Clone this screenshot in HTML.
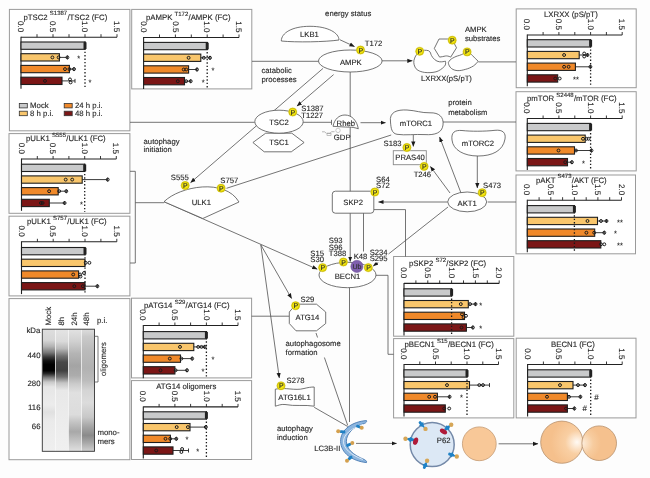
<!DOCTYPE html><html><head><meta charset="utf-8"><style>html,body{margin:0;padding:0;background:#fff;width:650px;height:478px;overflow:hidden}svg{display:block;will-change:transform}text{stroke:#262626;stroke-width:0.12px;text-rendering:geometricPrecision}</style></head><body>
<svg width="650" height="478" viewBox="0 0 650 478" font-family='"Liberation Sans", sans-serif'>
<rect width="650" height="478" fill="#fdfdfd"/>
<rect x="9.4" y="9.4" width="120.5" height="121.4" fill="#fff" stroke="#9a9a9a" stroke-width="1"/>
<text x="23.4" y="19.6" font-size="7.8" fill="#262626">pTSC2 <tspan font-size="6" dy="-4.3">S1387</tspan><tspan dy="4.3" dx="0.2">/TSC2 (FC)</tspan></text>
<text transform="translate(18.1,21.0) rotate(90)" font-size="8" fill="#262626">0.0</text>
<text transform="translate(50.1,21.0) rotate(90)" font-size="8" fill="#262626">0.5</text>
<text transform="translate(82.1,21.0) rotate(90)" font-size="8" fill="#262626">1.0</text>
<text transform="translate(114.1,21.0) rotate(90)" font-size="8" fill="#262626">1.5</text>
<path d="M21.0,37.2H117.0" stroke="#222" stroke-width="1.1" fill="none"/>
<path d="M37.0,37.2v-3M53.0,37.2v-3M69.0,37.2v-3M85.0,37.2v-3M101.0,37.2v-3M117.0,37.2v-3" stroke="#222" stroke-width="0.9" fill="none"/>
<path d="M21.0,36.7V88.7" stroke="#222" stroke-width="1.1" fill="none"/>
<rect x="21.0" y="42.0" width="64.0" height="7.3" fill="#c9cacb" stroke="#1e1e1e" stroke-width="1.1"/>
<rect x="21.0" y="53.7" width="38.4" height="7.3" fill="#f9c66c" stroke="#1e1e1e" stroke-width="1.1"/>
<rect x="21.0" y="65.4" width="48.4" height="7.3" fill="#f0892a" stroke="#1e1e1e" stroke-width="1.1"/>
<rect x="21.0" y="77.2" width="41.0" height="7.3" fill="#7b1616" stroke="#1e1e1e" stroke-width="1.1"/>
<path d="M85.0,41.5V88.6" stroke="#1a1a1a" stroke-width="1.3" stroke-dasharray="1.4,2" fill="none"/>
<path d="M59.4,57.4H67.4M67.4,55.4V59.4" stroke="#222" stroke-width="0.9" fill="none"/>
<path d="M69.4,69.1H74.0M74.0,67.1V71.1" stroke="#222" stroke-width="0.9" fill="none"/>
<path d="M62.0,80.9H75.0M75.0,78.9V82.9" stroke="#222" stroke-width="0.9" fill="none"/>
<path d="M83.5,42.3h3v6.7h-3z" fill="#222"/>
<circle cx="52.4" cy="57.4" r="1.45" fill="none" stroke="#1a1a1a" stroke-width="1.0"/>
<circle cx="58.6" cy="57.4" r="1.45" fill="none" stroke="#1a1a1a" stroke-width="1.0"/>
<circle cx="67.4" cy="57.4" r="1.45" fill="none" stroke="#1a1a1a" stroke-width="1.0"/>
<circle cx="65.0" cy="69.1" r="1.45" fill="none" stroke="#1a1a1a" stroke-width="1.0"/>
<circle cx="69.4" cy="69.1" r="1.45" fill="none" stroke="#1a1a1a" stroke-width="1.0"/>
<circle cx="74.0" cy="69.1" r="1.45" fill="none" stroke="#1a1a1a" stroke-width="1.0"/>
<circle cx="45.0" cy="80.9" r="1.45" fill="none" stroke="#1a1a1a" stroke-width="1.0"/>
<circle cx="70.0" cy="79.4" r="1.45" fill="none" stroke="#1a1a1a" stroke-width="1.0"/>
<circle cx="70.6" cy="82.4" r="1.45" fill="none" stroke="#1a1a1a" stroke-width="1.0"/>
<text x="78.6" y="61.0" font-size="7.5" text-anchor="middle" fill="#222" >*</text>
<text x="90.0" y="84.5" font-size="7.5" text-anchor="middle" fill="#222" >*</text>
<rect x="19.3" y="103.4" width="8" height="4.5" fill="#c9cacb" stroke="#333" stroke-width="0.8"/>
<text x="30.1" y="108.4" font-size="7.8" text-anchor="start" fill="#262626" >Mock</text>
<rect x="19.3" y="111.2" width="8" height="4.5" fill="#f9c66c" stroke="#333" stroke-width="0.8"/>
<text x="30.1" y="116.2" font-size="7.8" text-anchor="start" fill="#262626" >8 h p.i.</text>
<rect x="64.2" y="103.4" width="8" height="4.5" fill="#f0892a" stroke="#333" stroke-width="0.8"/>
<text x="75.0" y="108.4" font-size="7.8" text-anchor="start" fill="#262626" >24 h p.i.</text>
<rect x="64.2" y="111.2" width="8" height="4.5" fill="#7b1616" stroke="#333" stroke-width="0.8"/>
<text x="75.0" y="116.2" font-size="7.8" text-anchor="start" fill="#262626" >48 h p.i.</text>
<rect x="131.7" y="9.4" width="120.1" height="79.5" fill="#fff" stroke="#9a9a9a" stroke-width="1"/>
<text x="146.0" y="19.9" font-size="7.8" fill="#262626">pAMPK <tspan font-size="6" dy="-4.3">T172</tspan><tspan dy="4.3" dx="0.2">/AMPK (FC)</tspan></text>
<text transform="translate(140.7,21.3) rotate(90)" font-size="8" fill="#262626">0.0</text>
<text transform="translate(172.5,21.3) rotate(90)" font-size="8" fill="#262626">0.5</text>
<text transform="translate(204.3,21.3) rotate(90)" font-size="8" fill="#262626">1.0</text>
<text transform="translate(236.1,21.3) rotate(90)" font-size="8" fill="#262626">1.5</text>
<path d="M143.6,37.5H239.0" stroke="#222" stroke-width="1.1" fill="none"/>
<path d="M159.5,37.5v-3M175.4,37.5v-3M191.3,37.5v-3M207.2,37.5v-3M223.1,37.5v-3M239.0,37.5v-3" stroke="#222" stroke-width="0.9" fill="none"/>
<path d="M143.6,37.0V89.0" stroke="#222" stroke-width="1.1" fill="none"/>
<rect x="143.6" y="42.4" width="63.6" height="7.3" fill="#c9cacb" stroke="#1e1e1e" stroke-width="1.1"/>
<rect x="143.6" y="54.1" width="57.2" height="7.3" fill="#f9c66c" stroke="#1e1e1e" stroke-width="1.1"/>
<rect x="143.6" y="65.8" width="45.0" height="7.3" fill="#f0892a" stroke="#1e1e1e" stroke-width="1.1"/>
<rect x="143.6" y="77.5" width="40.9" height="7.3" fill="#7b1616" stroke="#1e1e1e" stroke-width="1.1"/>
<path d="M207.2,41.9V87.5" stroke="#1a1a1a" stroke-width="1.3" stroke-dasharray="1.4,2" fill="none"/>
<path d="M200.8,57.8H210.0M210.0,55.8V59.8" stroke="#222" stroke-width="0.9" fill="none"/>
<path d="M188.6,69.5H197.0M197.0,67.5V71.5" stroke="#222" stroke-width="0.9" fill="none"/>
<path d="M184.5,81.2H190.7M190.7,79.2V83.2" stroke="#222" stroke-width="0.9" fill="none"/>
<path d="M205.7,42.7h3v6.7h-3z" fill="#222"/>
<circle cx="188.6" cy="57.8" r="1.45" fill="none" stroke="#1a1a1a" stroke-width="1.0"/>
<circle cx="203.8" cy="57.8" r="1.45" fill="none" stroke="#1a1a1a" stroke-width="1.0"/>
<circle cx="210.0" cy="57.8" r="1.45" fill="none" stroke="#1a1a1a" stroke-width="1.0"/>
<circle cx="183.7" cy="69.5" r="1.45" fill="none" stroke="#1a1a1a" stroke-width="1.0"/>
<circle cx="186.2" cy="69.5" r="1.45" fill="none" stroke="#1a1a1a" stroke-width="1.0"/>
<circle cx="197.0" cy="69.5" r="1.45" fill="none" stroke="#1a1a1a" stroke-width="1.0"/>
<circle cx="177.8" cy="81.2" r="1.45" fill="none" stroke="#1a1a1a" stroke-width="1.0"/>
<circle cx="186.2" cy="81.2" r="1.45" fill="none" stroke="#1a1a1a" stroke-width="1.0"/>
<circle cx="190.7" cy="81.2" r="1.45" fill="none" stroke="#1a1a1a" stroke-width="1.0"/>
<text x="213.0" y="73.0" font-size="7.5" text-anchor="middle" fill="#222" >*</text>
<text x="203.2" y="84.8" font-size="7.5" text-anchor="middle" fill="#222" >*</text>
<rect x="516.2" y="8.9" width="120.0" height="78.8" fill="#fff" stroke="#9a9a9a" stroke-width="1"/>
<text x="544.0" y="17.4" font-size="7.8" fill="#262626">LXRXX (pS/pT)</text>
<text transform="translate(524.4,18.8) rotate(90)" font-size="8" fill="#262626">0.0</text>
<text transform="translate(556.0,18.8) rotate(90)" font-size="8" fill="#262626">0.5</text>
<text transform="translate(587.7,18.8) rotate(90)" font-size="8" fill="#262626">1.0</text>
<text transform="translate(619.4,18.8) rotate(90)" font-size="8" fill="#262626">1.5</text>
<path d="M527.3,35.0H622.2" stroke="#222" stroke-width="1.1" fill="none"/>
<path d="M543.1,35.0v-3M558.9,35.0v-3M574.8,35.0v-3M590.6,35.0v-3M606.4,35.0v-3M622.2,35.0v-3" stroke="#222" stroke-width="0.9" fill="none"/>
<path d="M527.3,34.5V86.3" stroke="#222" stroke-width="1.1" fill="none"/>
<rect x="527.3" y="39.7" width="63.3" height="7.3" fill="#c9cacb" stroke="#1e1e1e" stroke-width="1.1"/>
<rect x="527.3" y="51.4" width="51.9" height="7.3" fill="#f9c66c" stroke="#1e1e1e" stroke-width="1.1"/>
<rect x="527.3" y="63.1" width="48.1" height="7.3" fill="#f0892a" stroke="#1e1e1e" stroke-width="1.1"/>
<rect x="527.3" y="74.8" width="30.4" height="7.3" fill="#7b1616" stroke="#1e1e1e" stroke-width="1.1"/>
<path d="M590.6,39.2V86.0" stroke="#1a1a1a" stroke-width="1.3" stroke-dasharray="1.4,2" fill="none"/>
<path d="M579.2,55.0H587.5M587.5,53.0V57.0" stroke="#222" stroke-width="0.9" fill="none"/>
<path d="M575.4,66.8H590.4M590.4,64.8V68.8" stroke="#222" stroke-width="0.9" fill="none"/>
<path d="M589.1,40.0h3v6.7h-3z" fill="#222"/>
<circle cx="564.1" cy="55.0" r="1.45" fill="none" stroke="#1a1a1a" stroke-width="1.0"/>
<circle cx="584.2" cy="53.5" r="1.45" fill="none" stroke="#1a1a1a" stroke-width="1.0"/>
<circle cx="584.2" cy="56.5" r="1.45" fill="none" stroke="#1a1a1a" stroke-width="1.0"/>
<circle cx="587.5" cy="55.0" r="1.45" fill="none" stroke="#1a1a1a" stroke-width="1.0"/>
<circle cx="564.1" cy="66.8" r="1.45" fill="none" stroke="#1a1a1a" stroke-width="1.0"/>
<circle cx="568.6" cy="66.8" r="1.45" fill="none" stroke="#1a1a1a" stroke-width="1.0"/>
<circle cx="590.4" cy="66.8" r="1.45" fill="none" stroke="#1a1a1a" stroke-width="1.0"/>
<circle cx="555.2" cy="78.5" r="1.45" fill="none" stroke="#1a1a1a" stroke-width="1.0"/>
<circle cx="559.7" cy="78.5" r="1.45" fill="none" stroke="#1a1a1a" stroke-width="1.0"/>
<text x="576.0" y="82.0" font-size="7.5" text-anchor="middle" fill="#222" >**</text>
<rect x="516" y="91.7" width="120.2" height="79.2" fill="#fff" stroke="#9a9a9a" stroke-width="1"/>
<text x="527.0" y="100.9" font-size="7.8" fill="#262626">pmTOR <tspan font-size="6" dy="-4.3">S2448</tspan><tspan dy="4.3" dx="0.2">/mTOR (FC)</tspan></text>
<text transform="translate(524.4,102.3) rotate(90)" font-size="8" fill="#262626">0.0</text>
<text transform="translate(556.0,102.3) rotate(90)" font-size="8" fill="#262626">0.5</text>
<text transform="translate(587.7,102.3) rotate(90)" font-size="8" fill="#262626">1.0</text>
<text transform="translate(619.4,102.3) rotate(90)" font-size="8" fill="#262626">1.5</text>
<path d="M527.3,118.5H622.2" stroke="#222" stroke-width="1.1" fill="none"/>
<path d="M543.1,118.5v-3M558.9,118.5v-3M574.8,118.5v-3M590.6,118.5v-3M606.4,118.5v-3M622.2,118.5v-3" stroke="#222" stroke-width="0.9" fill="none"/>
<path d="M527.3,118.0V170.0" stroke="#222" stroke-width="1.1" fill="none"/>
<rect x="527.3" y="123.4" width="63.3" height="7.3" fill="#c9cacb" stroke="#1e1e1e" stroke-width="1.1"/>
<rect x="527.3" y="135.1" width="57.9" height="7.3" fill="#f9c66c" stroke="#1e1e1e" stroke-width="1.1"/>
<rect x="527.3" y="146.8" width="47.2" height="7.3" fill="#f0892a" stroke="#1e1e1e" stroke-width="1.1"/>
<rect x="527.3" y="158.5" width="40.2" height="7.3" fill="#7b1616" stroke="#1e1e1e" stroke-width="1.1"/>
<path d="M590.6,122.9V170.0" stroke="#1a1a1a" stroke-width="1.3" stroke-dasharray="1.4,2" fill="none"/>
<path d="M574.5,150.5H591.5M591.5,148.5V152.5" stroke="#222" stroke-width="0.9" fill="none"/>
<path d="M567.5,162.2H571.9M571.9,160.2V164.2" stroke="#222" stroke-width="0.9" fill="none"/>
<path d="M589.1,123.7h3v6.7h-3z" fill="#222"/>
<circle cx="583.0" cy="138.8" r="1.45" fill="none" stroke="#1a1a1a" stroke-width="1.0"/>
<circle cx="586.4" cy="138.8" r="1.45" fill="none" stroke="#1a1a1a" stroke-width="1.0"/>
<circle cx="588.6" cy="138.8" r="1.45" fill="none" stroke="#1a1a1a" stroke-width="1.0"/>
<circle cx="558.5" cy="150.5" r="1.45" fill="none" stroke="#1a1a1a" stroke-width="1.0"/>
<circle cx="576.0" cy="150.5" r="1.45" fill="none" stroke="#1a1a1a" stroke-width="1.0"/>
<circle cx="591.5" cy="150.5" r="1.45" fill="none" stroke="#1a1a1a" stroke-width="1.0"/>
<circle cx="565.2" cy="162.2" r="1.45" fill="none" stroke="#1a1a1a" stroke-width="1.0"/>
<circle cx="571.9" cy="162.2" r="1.45" fill="none" stroke="#1a1a1a" stroke-width="1.0"/>
<text x="583.5" y="165.8" font-size="7.5" text-anchor="middle" fill="#222" >*</text>
<rect x="516" y="175" width="119.5" height="78.8" fill="#fff" stroke="#9a9a9a" stroke-width="1"/>
<text x="536.0" y="182.6" font-size="7.8" fill="#262626">pAKT <tspan font-size="6" dy="-4.3">S473</tspan><tspan dy="4.3" dx="0.2">/AKT (FC)</tspan></text>
<text transform="translate(524.4,184.0) rotate(90)" font-size="8" fill="#262626">0.0</text>
<text transform="translate(547.9,184.0) rotate(90)" font-size="8" fill="#262626">0.5</text>
<text transform="translate(571.5,184.0) rotate(90)" font-size="8" fill="#262626">1.0</text>
<text transform="translate(595.0,184.0) rotate(90)" font-size="8" fill="#262626">1.5</text>
<text transform="translate(618.6,184.0) rotate(90)" font-size="8" fill="#262626">2.0</text>
<path d="M527.3,200.2H621.5" stroke="#222" stroke-width="1.1" fill="none"/>
<path d="M539.1,200.2v-3M550.8,200.2v-3M562.6,200.2v-3M574.4,200.2v-3M586.2,200.2v-3M597.9,200.2v-3M609.7,200.2v-3M621.5,200.2v-3" stroke="#222" stroke-width="0.9" fill="none"/>
<path d="M527.3,199.7V252.2" stroke="#222" stroke-width="1.1" fill="none"/>
<rect x="527.3" y="205.6" width="47.1" height="7.3" fill="#c9cacb" stroke="#1e1e1e" stroke-width="1.1"/>
<rect x="527.3" y="217.3" width="70.2" height="7.3" fill="#f9c66c" stroke="#1e1e1e" stroke-width="1.1"/>
<rect x="527.3" y="229.0" width="67.4" height="7.3" fill="#f0892a" stroke="#1e1e1e" stroke-width="1.1"/>
<rect x="527.3" y="240.7" width="73.5" height="7.3" fill="#7b1616" stroke="#1e1e1e" stroke-width="1.1"/>
<path d="M574.4,205.1V252.0" stroke="#1a1a1a" stroke-width="1.3" stroke-dasharray="1.4,2" fill="none"/>
<path d="M597.5,221.0H606.5M606.5,219.0V223.0" stroke="#222" stroke-width="0.9" fill="none"/>
<path d="M594.7,232.7H604.3M604.3,230.7V234.7" stroke="#222" stroke-width="0.9" fill="none"/>
<path d="M572.9,205.9h3v6.7h-3z" fill="#222"/>
<circle cx="587.5" cy="221.0" r="1.45" fill="none" stroke="#1a1a1a" stroke-width="1.0"/>
<circle cx="601.0" cy="221.0" r="1.45" fill="none" stroke="#1a1a1a" stroke-width="1.0"/>
<circle cx="606.5" cy="221.0" r="1.45" fill="none" stroke="#1a1a1a" stroke-width="1.0"/>
<circle cx="586.4" cy="232.7" r="1.45" fill="none" stroke="#1a1a1a" stroke-width="1.0"/>
<circle cx="594.2" cy="232.7" r="1.45" fill="none" stroke="#1a1a1a" stroke-width="1.0"/>
<circle cx="604.3" cy="232.7" r="1.45" fill="none" stroke="#1a1a1a" stroke-width="1.0"/>
<circle cx="601.0" cy="244.3" r="1.45" fill="none" stroke="#1a1a1a" stroke-width="1.0"/>
<circle cx="604.3" cy="244.3" r="1.45" fill="none" stroke="#1a1a1a" stroke-width="1.0"/>
<text x="620.0" y="224.6" font-size="7.5" text-anchor="middle" fill="#222" >**</text>
<text x="615.4" y="236.2" font-size="7.5" text-anchor="middle" fill="#222" >*</text>
<text x="620.0" y="247.9" font-size="7.5" text-anchor="middle" fill="#222" >**</text>
<rect x="9" y="133.6" width="120.9" height="79.7" fill="#fff" stroke="#9a9a9a" stroke-width="1"/>
<text x="26.0" y="141.4" font-size="7.8" fill="#262626">pULK1 <tspan font-size="6" dy="-4.3">S555</tspan><tspan dy="4.3" dx="0.2">/ULK1 (FC)</tspan></text>
<text transform="translate(18.6,142.8) rotate(90)" font-size="8" fill="#262626">0.0</text>
<text transform="translate(50.2,142.8) rotate(90)" font-size="8" fill="#262626">0.5</text>
<text transform="translate(81.8,142.8) rotate(90)" font-size="8" fill="#262626">1.0</text>
<text transform="translate(113.4,142.8) rotate(90)" font-size="8" fill="#262626">1.5</text>
<path d="M21.5,159.0H116.3" stroke="#222" stroke-width="1.1" fill="none"/>
<path d="M37.3,159.0v-3M53.1,159.0v-3M68.9,159.0v-3M84.7,159.0v-3M100.5,159.0v-3M116.3,159.0v-3" stroke="#222" stroke-width="0.9" fill="none"/>
<path d="M21.5,158.5V210.8" stroke="#222" stroke-width="1.1" fill="none"/>
<rect x="21.5" y="164.2" width="63.2" height="7.3" fill="#c9cacb" stroke="#1e1e1e" stroke-width="1.1"/>
<rect x="21.5" y="175.9" width="60.7" height="7.3" fill="#f9c66c" stroke="#1e1e1e" stroke-width="1.1"/>
<rect x="21.5" y="187.6" width="36.7" height="7.3" fill="#f0892a" stroke="#1e1e1e" stroke-width="1.1"/>
<rect x="21.5" y="199.3" width="27.8" height="7.3" fill="#7b1616" stroke="#1e1e1e" stroke-width="1.1"/>
<path d="M84.7,163.7V212.0" stroke="#1a1a1a" stroke-width="1.3" stroke-dasharray="1.4,2" fill="none"/>
<path d="M82.2,179.6H107.7M107.7,177.6V181.6" stroke="#222" stroke-width="0.9" fill="none"/>
<path d="M58.2,191.2H66.3M66.3,189.2V193.2" stroke="#222" stroke-width="0.9" fill="none"/>
<path d="M49.3,203.0H64.6M64.6,201.0V205.0" stroke="#222" stroke-width="0.9" fill="none"/>
<path d="M83.2,164.5h3v6.7h-3z" fill="#222"/>
<circle cx="65.7" cy="179.6" r="1.45" fill="none" stroke="#1a1a1a" stroke-width="1.0"/>
<circle cx="72.2" cy="179.6" r="1.45" fill="none" stroke="#1a1a1a" stroke-width="1.0"/>
<circle cx="107.7" cy="179.6" r="1.45" fill="none" stroke="#1a1a1a" stroke-width="1.0"/>
<circle cx="49.1" cy="191.2" r="1.45" fill="none" stroke="#1a1a1a" stroke-width="1.0"/>
<circle cx="59.2" cy="191.2" r="1.45" fill="none" stroke="#1a1a1a" stroke-width="1.0"/>
<circle cx="66.3" cy="191.2" r="1.45" fill="none" stroke="#1a1a1a" stroke-width="1.0"/>
<circle cx="40.9" cy="203.0" r="1.45" fill="none" stroke="#1a1a1a" stroke-width="1.0"/>
<circle cx="42.6" cy="203.0" r="1.45" fill="none" stroke="#1a1a1a" stroke-width="1.0"/>
<circle cx="64.6" cy="203.0" r="1.45" fill="none" stroke="#1a1a1a" stroke-width="1.0"/>
<text x="81.4" y="206.6" font-size="7.5" text-anchor="middle" fill="#222" >*</text>
<rect x="9" y="216.2" width="120.9" height="79.7" fill="#fff" stroke="#9a9a9a" stroke-width="1"/>
<text x="27.0" y="224.2" font-size="7.8" fill="#262626">pULK1 <tspan font-size="6" dy="-4.3">S757</tspan><tspan dy="4.3" dx="0.2">/ULK1 (FC)</tspan></text>
<text transform="translate(18.6,225.6) rotate(90)" font-size="8" fill="#262626">0.0</text>
<text transform="translate(50.4,225.6) rotate(90)" font-size="8" fill="#262626">0.5</text>
<text transform="translate(82.1,225.6) rotate(90)" font-size="8" fill="#262626">1.0</text>
<text transform="translate(113.8,225.6) rotate(90)" font-size="8" fill="#262626">1.5</text>
<path d="M21.5,241.8H116.8" stroke="#222" stroke-width="1.1" fill="none"/>
<path d="M37.4,241.8v-3M53.2,241.8v-3M69.1,241.8v-3M85.0,241.8v-3M100.9,241.8v-3M116.8,241.8v-3" stroke="#222" stroke-width="0.9" fill="none"/>
<path d="M21.5,241.3V294.1" stroke="#222" stroke-width="1.1" fill="none"/>
<rect x="21.5" y="247.5" width="63.5" height="7.3" fill="#c9cacb" stroke="#1e1e1e" stroke-width="1.1"/>
<rect x="21.5" y="259.2" width="63.5" height="7.3" fill="#f9c66c" stroke="#1e1e1e" stroke-width="1.1"/>
<rect x="21.5" y="270.9" width="57.1" height="7.3" fill="#f0892a" stroke="#1e1e1e" stroke-width="1.1"/>
<rect x="21.5" y="282.6" width="63.5" height="7.3" fill="#7b1616" stroke="#1e1e1e" stroke-width="1.1"/>
<path d="M85.0,247.0V294.5" stroke="#1a1a1a" stroke-width="1.3" stroke-dasharray="1.4,2" fill="none"/>
<path d="M85.0,286.2H97.4M97.4,284.2V288.2" stroke="#222" stroke-width="0.9" fill="none"/>
<path d="M83.5,247.8h3v6.7h-3z" fill="#222"/>
<circle cx="85.7" cy="262.8" r="1.45" fill="none" stroke="#1a1a1a" stroke-width="1.0"/>
<circle cx="89.4" cy="262.8" r="1.45" fill="none" stroke="#1a1a1a" stroke-width="1.0"/>
<circle cx="73.2" cy="274.5" r="1.45" fill="none" stroke="#1a1a1a" stroke-width="1.0"/>
<circle cx="80.1" cy="274.5" r="1.45" fill="none" stroke="#1a1a1a" stroke-width="1.0"/>
<circle cx="84.0" cy="273.0" r="1.45" fill="none" stroke="#1a1a1a" stroke-width="1.0"/>
<circle cx="80.5" cy="276.5" r="1.45" fill="none" stroke="#1a1a1a" stroke-width="1.0"/>
<circle cx="74.3" cy="286.2" r="1.45" fill="none" stroke="#1a1a1a" stroke-width="1.0"/>
<circle cx="82.9" cy="286.2" r="1.45" fill="none" stroke="#1a1a1a" stroke-width="1.0"/>
<circle cx="97.4" cy="286.2" r="1.45" fill="none" stroke="#1a1a1a" stroke-width="1.0"/>
<rect x="131.5" y="298.2" width="120.1" height="79.7" fill="#fff" stroke="#9a9a9a" stroke-width="1"/>
<text x="144.0" y="307.9" font-size="7.8" fill="#262626">pATG14 <tspan font-size="6" dy="-4.3">S29</tspan><tspan dy="4.3" dx="0.2">/ATG14 (FC)</tspan></text>
<text transform="translate(140.4,309.3) rotate(90)" font-size="8" fill="#262626">0.0</text>
<text transform="translate(172.0,309.3) rotate(90)" font-size="8" fill="#262626">0.5</text>
<text transform="translate(203.5,309.3) rotate(90)" font-size="8" fill="#262626">1.0</text>
<text transform="translate(235.1,309.3) rotate(90)" font-size="8" fill="#262626">1.5</text>
<path d="M143.3,325.5H238.0" stroke="#222" stroke-width="1.1" fill="none"/>
<path d="M159.1,325.5v-3M174.9,325.5v-3M190.6,325.5v-3M206.4,325.5v-3M222.2,325.5v-3M238.0,325.5v-3" stroke="#222" stroke-width="0.9" fill="none"/>
<path d="M143.3,325.0V378.2" stroke="#222" stroke-width="1.1" fill="none"/>
<rect x="143.3" y="331.6" width="63.1" height="7.3" fill="#c9cacb" stroke="#1e1e1e" stroke-width="1.1"/>
<rect x="143.3" y="343.3" width="50.5" height="7.3" fill="#f9c66c" stroke="#1e1e1e" stroke-width="1.1"/>
<rect x="143.3" y="355.0" width="37.2" height="7.3" fill="#f0892a" stroke="#1e1e1e" stroke-width="1.1"/>
<rect x="143.3" y="366.7" width="31.6" height="7.3" fill="#7b1616" stroke="#1e1e1e" stroke-width="1.1"/>
<path d="M206.4,331.1V376.5" stroke="#1a1a1a" stroke-width="1.3" stroke-dasharray="1.4,2" fill="none"/>
<path d="M193.8,346.9H204.7M204.7,344.9V348.9" stroke="#222" stroke-width="0.9" fill="none"/>
<path d="M180.5,358.6H192.2M192.2,356.6V360.6" stroke="#222" stroke-width="0.9" fill="none"/>
<path d="M174.9,370.3H187.0M187.0,368.3V372.3" stroke="#222" stroke-width="0.9" fill="none"/>
<path d="M204.9,331.9h3v6.7h-3z" fill="#222"/>
<circle cx="180.0" cy="346.9" r="1.45" fill="none" stroke="#1a1a1a" stroke-width="1.0"/>
<circle cx="198.2" cy="346.9" r="1.45" fill="none" stroke="#1a1a1a" stroke-width="1.0"/>
<circle cx="201.5" cy="346.9" r="1.45" fill="none" stroke="#1a1a1a" stroke-width="1.0"/>
<circle cx="204.7" cy="346.9" r="1.45" fill="none" stroke="#1a1a1a" stroke-width="1.0"/>
<circle cx="169.8" cy="358.6" r="1.45" fill="none" stroke="#1a1a1a" stroke-width="1.0"/>
<circle cx="181.4" cy="358.6" r="1.45" fill="none" stroke="#1a1a1a" stroke-width="1.0"/>
<circle cx="192.2" cy="358.6" r="1.45" fill="none" stroke="#1a1a1a" stroke-width="1.0"/>
<circle cx="160.5" cy="370.3" r="1.45" fill="none" stroke="#1a1a1a" stroke-width="1.0"/>
<circle cx="175.6" cy="370.3" r="1.45" fill="none" stroke="#1a1a1a" stroke-width="1.0"/>
<circle cx="187.0" cy="370.3" r="1.45" fill="none" stroke="#1a1a1a" stroke-width="1.0"/>
<text x="212.9" y="362.2" font-size="7.5" text-anchor="middle" fill="#222" >*</text>
<text x="203.0" y="373.9" font-size="7.5" text-anchor="middle" fill="#222" >*</text>
<rect x="131.5" y="380.6" width="120.1" height="78.9" fill="#fff" stroke="#9a9a9a" stroke-width="1"/>
<text x="156.2" y="389.3" font-size="7.8" fill="#262626">ATG14 oligomers</text>
<text transform="translate(140.4,390.7) rotate(90)" font-size="8" fill="#262626">0.0</text>
<text transform="translate(172.0,390.7) rotate(90)" font-size="8" fill="#262626">0.5</text>
<text transform="translate(203.5,390.7) rotate(90)" font-size="8" fill="#262626">1.0</text>
<text transform="translate(235.1,390.7) rotate(90)" font-size="8" fill="#262626">1.5</text>
<path d="M143.3,406.9H238.0" stroke="#222" stroke-width="1.1" fill="none"/>
<path d="M159.1,406.9v-3M174.9,406.9v-3M190.6,406.9v-3M206.4,406.9v-3M222.2,406.9v-3M238.0,406.9v-3" stroke="#222" stroke-width="0.9" fill="none"/>
<path d="M143.3,406.4V458.4" stroke="#222" stroke-width="1.1" fill="none"/>
<rect x="143.3" y="411.8" width="63.1" height="7.3" fill="#c9cacb" stroke="#1e1e1e" stroke-width="1.1"/>
<rect x="143.3" y="423.5" width="46.7" height="7.3" fill="#f9c66c" stroke="#1e1e1e" stroke-width="1.1"/>
<rect x="143.3" y="435.2" width="27.1" height="7.3" fill="#f0892a" stroke="#1e1e1e" stroke-width="1.1"/>
<rect x="143.3" y="446.9" width="29.7" height="7.3" fill="#7b1616" stroke="#1e1e1e" stroke-width="1.1"/>
<path d="M206.4,411.3V458.0" stroke="#1a1a1a" stroke-width="1.3" stroke-dasharray="1.4,2" fill="none"/>
<path d="M190.0,427.1H205.8M205.8,425.1V429.1" stroke="#222" stroke-width="0.9" fill="none"/>
<path d="M170.4,438.8H176.3M176.3,436.8V440.8" stroke="#222" stroke-width="0.9" fill="none"/>
<path d="M173.0,450.5H188.5M188.5,448.5V452.5" stroke="#222" stroke-width="0.9" fill="none"/>
<path d="M204.9,412.1h3v6.7h-3z" fill="#222"/>
<circle cx="176.7" cy="427.1" r="1.45" fill="none" stroke="#1a1a1a" stroke-width="1.0"/>
<circle cx="187.9" cy="427.1" r="1.45" fill="none" stroke="#1a1a1a" stroke-width="1.0"/>
<circle cx="205.8" cy="427.1" r="1.45" fill="none" stroke="#1a1a1a" stroke-width="1.0"/>
<circle cx="165.5" cy="438.8" r="1.45" fill="none" stroke="#1a1a1a" stroke-width="1.0"/>
<circle cx="170.2" cy="438.8" r="1.45" fill="none" stroke="#1a1a1a" stroke-width="1.0"/>
<circle cx="176.3" cy="438.8" r="1.45" fill="none" stroke="#1a1a1a" stroke-width="1.0"/>
<circle cx="156.2" cy="450.5" r="1.45" fill="none" stroke="#1a1a1a" stroke-width="1.0"/>
<circle cx="182.1" cy="449.0" r="1.45" fill="none" stroke="#1a1a1a" stroke-width="1.0"/>
<circle cx="181.4" cy="452.0" r="1.45" fill="none" stroke="#1a1a1a" stroke-width="1.0"/>
<text x="187.0" y="442.4" font-size="7.5" text-anchor="middle" fill="#222" >*</text>
<text x="197.8" y="454.1" font-size="7.5" text-anchor="middle" fill="#222" >*</text>
<rect x="393.6" y="256.5" width="120.2" height="79.7" fill="#fff" stroke="#9a9a9a" stroke-width="1"/>
<text x="409.0" y="265.8" font-size="7.8" fill="#262626">pSKP2 <tspan font-size="6" dy="-4.3">S72</tspan><tspan dy="4.3" dx="0.2">/SKP2 (FC)</tspan></text>
<text transform="translate(401.1,267.2) rotate(90)" font-size="8" fill="#262626">0.0</text>
<text transform="translate(424.9,267.2) rotate(90)" font-size="8" fill="#262626">0.5</text>
<text transform="translate(448.7,267.2) rotate(90)" font-size="8" fill="#262626">1.0</text>
<text transform="translate(472.5,267.2) rotate(90)" font-size="8" fill="#262626">1.5</text>
<text transform="translate(496.3,267.2) rotate(90)" font-size="8" fill="#262626">2.0</text>
<path d="M404.0,283.4H499.2" stroke="#222" stroke-width="1.1" fill="none"/>
<path d="M415.9,283.4v-3M427.8,283.4v-3M439.7,283.4v-3M451.6,283.4v-3M463.5,283.4v-3M475.4,283.4v-3M487.3,283.4v-3M499.2,283.4v-3" stroke="#222" stroke-width="0.9" fill="none"/>
<path d="M404.0,282.9V335.4" stroke="#222" stroke-width="1.1" fill="none"/>
<rect x="404.0" y="288.8" width="47.6" height="7.3" fill="#c9cacb" stroke="#1e1e1e" stroke-width="1.1"/>
<rect x="404.0" y="300.5" width="64.3" height="7.3" fill="#f9c66c" stroke="#1e1e1e" stroke-width="1.1"/>
<rect x="404.0" y="312.2" width="60.5" height="7.3" fill="#f0892a" stroke="#1e1e1e" stroke-width="1.1"/>
<rect x="404.0" y="323.9" width="62.4" height="7.3" fill="#7b1616" stroke="#1e1e1e" stroke-width="1.1"/>
<path d="M451.6,288.3V335.0" stroke="#1a1a1a" stroke-width="1.3" stroke-dasharray="1.4,2" fill="none"/>
<path d="M468.3,304.1H475.5M475.5,302.1V306.1" stroke="#222" stroke-width="0.9" fill="none"/>
<path d="M466.4,327.5H472.9M472.9,325.5V329.5" stroke="#222" stroke-width="0.9" fill="none"/>
<path d="M450.1,289.1h3v6.7h-3z" fill="#222"/>
<circle cx="460.8" cy="304.1" r="1.45" fill="none" stroke="#1a1a1a" stroke-width="1.0"/>
<circle cx="470.1" cy="304.1" r="1.45" fill="none" stroke="#1a1a1a" stroke-width="1.0"/>
<circle cx="475.5" cy="304.1" r="1.45" fill="none" stroke="#1a1a1a" stroke-width="1.0"/>
<circle cx="462.0" cy="314.3" r="1.45" fill="none" stroke="#1a1a1a" stroke-width="1.0"/>
<circle cx="463.6" cy="317.3" r="1.45" fill="none" stroke="#1a1a1a" stroke-width="1.0"/>
<circle cx="466.0" cy="315.8" r="1.45" fill="none" stroke="#1a1a1a" stroke-width="1.0"/>
<circle cx="461.5" cy="327.5" r="1.45" fill="none" stroke="#1a1a1a" stroke-width="1.0"/>
<circle cx="472.9" cy="327.5" r="1.45" fill="none" stroke="#1a1a1a" stroke-width="1.0"/>
<text x="480.8" y="307.8" font-size="7.5" text-anchor="middle" fill="#222" >*</text>
<text x="480.8" y="331.1" font-size="7.5" text-anchor="middle" fill="#222" >*</text>
<rect x="393.6" y="338.6" width="120.2" height="79.3" fill="#fff" stroke="#9a9a9a" stroke-width="1"/>
<text x="404.5" y="346.9" font-size="7.8" fill="#262626">pBECN1 <tspan font-size="6" dy="-4.3">S15</tspan><tspan dy="4.3" dx="0.2">/BECN1 (FC)</tspan></text>
<text transform="translate(401.1,348.3) rotate(90)" font-size="8" fill="#262626">0.0</text>
<text transform="translate(432.6,348.3) rotate(90)" font-size="8" fill="#262626">0.5</text>
<text transform="translate(464.1,348.3) rotate(90)" font-size="8" fill="#262626">1.0</text>
<text transform="translate(495.6,348.3) rotate(90)" font-size="8" fill="#262626">1.5</text>
<path d="M404.0,364.5H498.5" stroke="#222" stroke-width="1.1" fill="none"/>
<path d="M419.8,364.5v-3M435.5,364.5v-3M451.2,364.5v-3M467.0,364.5v-3M482.8,364.5v-3M498.5,364.5v-3" stroke="#222" stroke-width="0.9" fill="none"/>
<path d="M404.0,364.0V416.4" stroke="#222" stroke-width="1.1" fill="none"/>
<rect x="404.0" y="369.8" width="63.0" height="7.3" fill="#c9cacb" stroke="#1e1e1e" stroke-width="1.1"/>
<rect x="404.0" y="381.5" width="65.5" height="7.3" fill="#f9c66c" stroke="#1e1e1e" stroke-width="1.1"/>
<rect x="404.0" y="393.2" width="33.4" height="7.3" fill="#f0892a" stroke="#1e1e1e" stroke-width="1.1"/>
<rect x="404.0" y="404.9" width="41.3" height="7.3" fill="#7b1616" stroke="#1e1e1e" stroke-width="1.1"/>
<path d="M467.0,369.3V416.5" stroke="#1a1a1a" stroke-width="1.3" stroke-dasharray="1.4,2" fill="none"/>
<path d="M469.5,385.1H489.5M489.5,383.1V387.1" stroke="#222" stroke-width="0.9" fill="none"/>
<path d="M437.4,396.8H449.6M449.6,394.8V398.8" stroke="#222" stroke-width="0.9" fill="none"/>
<path d="M465.5,370.1h3v6.7h-3z" fill="#222"/>
<circle cx="447.0" cy="385.1" r="1.45" fill="none" stroke="#1a1a1a" stroke-width="1.0"/>
<circle cx="479.3" cy="385.1" r="1.45" fill="none" stroke="#1a1a1a" stroke-width="1.0"/>
<circle cx="483.0" cy="385.1" r="1.45" fill="none" stroke="#1a1a1a" stroke-width="1.0"/>
<circle cx="429.2" cy="396.8" r="1.45" fill="none" stroke="#1a1a1a" stroke-width="1.0"/>
<circle cx="435.0" cy="396.8" r="1.45" fill="none" stroke="#1a1a1a" stroke-width="1.0"/>
<circle cx="449.6" cy="396.8" r="1.45" fill="none" stroke="#1a1a1a" stroke-width="1.0"/>
<circle cx="444.2" cy="408.5" r="1.45" fill="none" stroke="#1a1a1a" stroke-width="1.0"/>
<circle cx="449.2" cy="408.5" r="1.45" fill="none" stroke="#1a1a1a" stroke-width="1.0"/>
<text x="461.5" y="400.4" font-size="7.5" text-anchor="middle" fill="#222" >*</text>
<rect x="516.2" y="338.2" width="119.8" height="79.7" fill="#fff" stroke="#9a9a9a" stroke-width="1"/>
<text x="551.0" y="346.9" font-size="7.8" fill="#262626">BECN1 (FC)</text>
<text transform="translate(524.7,348.3) rotate(90)" font-size="8" fill="#262626">0.0</text>
<text transform="translate(556.2,348.3) rotate(90)" font-size="8" fill="#262626">0.5</text>
<text transform="translate(587.8,348.3) rotate(90)" font-size="8" fill="#262626">1.0</text>
<text transform="translate(619.4,348.3) rotate(90)" font-size="8" fill="#262626">1.5</text>
<path d="M527.6,364.5H622.2" stroke="#222" stroke-width="1.1" fill="none"/>
<path d="M543.4,364.5v-3M559.1,364.5v-3M574.9,364.5v-3M590.7,364.5v-3M606.5,364.5v-3M622.2,364.5v-3" stroke="#222" stroke-width="0.9" fill="none"/>
<path d="M527.6,364.0V416.4" stroke="#222" stroke-width="1.1" fill="none"/>
<rect x="527.6" y="369.8" width="63.1" height="7.3" fill="#c9cacb" stroke="#1e1e1e" stroke-width="1.1"/>
<rect x="527.6" y="381.5" width="45.4" height="7.3" fill="#f9c66c" stroke="#1e1e1e" stroke-width="1.1"/>
<rect x="527.6" y="393.2" width="39.8" height="7.3" fill="#f0892a" stroke="#1e1e1e" stroke-width="1.1"/>
<rect x="527.6" y="404.9" width="39.8" height="7.3" fill="#7b1616" stroke="#1e1e1e" stroke-width="1.1"/>
<path d="M590.7,369.3V416.5" stroke="#1a1a1a" stroke-width="1.3" stroke-dasharray="1.4,2" fill="none"/>
<path d="M573.0,385.1H585.0M585.0,383.1V387.1" stroke="#222" stroke-width="0.9" fill="none"/>
<path d="M567.4,396.8H580.4M580.4,394.8V398.8" stroke="#222" stroke-width="0.9" fill="none"/>
<path d="M567.4,408.5H574.4M574.4,406.5V410.5" stroke="#222" stroke-width="0.9" fill="none"/>
<path d="M589.2,370.1h3v6.7h-3z" fill="#222"/>
<circle cx="560.0" cy="385.1" r="1.45" fill="none" stroke="#1a1a1a" stroke-width="1.0"/>
<circle cx="578.0" cy="385.1" r="1.45" fill="none" stroke="#1a1a1a" stroke-width="1.0"/>
<circle cx="585.0" cy="385.1" r="1.45" fill="none" stroke="#1a1a1a" stroke-width="1.0"/>
<circle cx="547.0" cy="396.8" r="1.45" fill="none" stroke="#1a1a1a" stroke-width="1.0"/>
<circle cx="569.0" cy="396.8" r="1.45" fill="none" stroke="#1a1a1a" stroke-width="1.0"/>
<circle cx="580.4" cy="396.8" r="1.45" fill="none" stroke="#1a1a1a" stroke-width="1.0"/>
<circle cx="566.0" cy="408.5" r="1.45" fill="none" stroke="#1a1a1a" stroke-width="1.0"/>
<circle cx="574.4" cy="408.5" r="1.45" fill="none" stroke="#1a1a1a" stroke-width="1.0"/>
<text x="596.5" y="399.7" font-size="8" text-anchor="middle" fill="#222" >#</text>
<text x="584.7" y="411.4" font-size="8" text-anchor="middle" fill="#222" >#</text>
<rect x="9" y="298.6" width="120.9" height="161.1" fill="#fff" stroke="#9a9a9a" stroke-width="1"/>
<defs>
<linearGradient id="l1" x1="0" y1="0" x2="0" y2="1"><stop offset="0" stop-color="#dedede"/><stop offset="0.09" stop-color="#d6d6d6"/><stop offset="0.14" stop-color="#b4b4b4"/><stop offset="0.19" stop-color="#7a7a7a"/><stop offset="0.228" stop-color="#3a3a3a"/><stop offset="0.26" stop-color="#101010"/><stop offset="0.29" stop-color="#000"/><stop offset="0.34" stop-color="#000"/><stop offset="0.365" stop-color="#2a2a2a"/><stop offset="0.395" stop-color="#7a7a7a"/><stop offset="0.432" stop-color="#c8c8c8"/><stop offset="0.473" stop-color="#e6e6e6"/><stop offset="0.62" stop-color="#ececec"/><stop offset="0.68" stop-color="#e0e0e0"/><stop offset="0.75" stop-color="#eaeaea"/><stop offset="1" stop-color="#efefef"/></linearGradient>
<linearGradient id="l2" x1="0" y1="0" x2="0" y2="1"><stop offset="0" stop-color="#e4e4e4"/><stop offset="0.1" stop-color="#dadada"/><stop offset="0.16" stop-color="#b8b8b8"/><stop offset="0.22" stop-color="#707070"/><stop offset="0.27" stop-color="#484848"/><stop offset="0.34" stop-color="#404040"/><stop offset="0.39" stop-color="#707070"/><stop offset="0.44" stop-color="#c4c4c4"/><stop offset="0.5" stop-color="#e8e8e8"/><stop offset="1" stop-color="#f0f0f0"/></linearGradient>
<linearGradient id="l3" x1="0" y1="0" x2="0" y2="1"><stop offset="0" stop-color="#e2e2e2"/><stop offset="0.1" stop-color="#d0d0d0"/><stop offset="0.2" stop-color="#b4b4b4"/><stop offset="0.3" stop-color="#a4a4a4"/><stop offset="0.38" stop-color="#acacac"/><stop offset="0.45" stop-color="#cccccc"/><stop offset="0.52" stop-color="#e0e0e0"/><stop offset="0.7" stop-color="#dcdcdc"/><stop offset="0.76" stop-color="#c4c4c4"/><stop offset="0.84" stop-color="#a8a8a8"/><stop offset="0.92" stop-color="#c4c4c4"/><stop offset="1" stop-color="#e0e0e0"/></linearGradient>
<linearGradient id="l4" x1="0" y1="0" x2="0" y2="1"><stop offset="0" stop-color="#dddddd"/><stop offset="0.06" stop-color="#cacaca"/><stop offset="0.18" stop-color="#bababa"/><stop offset="0.32" stop-color="#b2b2b2"/><stop offset="0.42" stop-color="#bcbcbc"/><stop offset="0.5" stop-color="#d4d4d4"/><stop offset="0.6" stop-color="#dcdcdc"/><stop offset="0.72" stop-color="#c8c8c8"/><stop offset="0.8" stop-color="#a4a4a4"/><stop offset="0.87" stop-color="#8a8a8a"/><stop offset="0.93" stop-color="#a8a8a8"/><stop offset="1" stop-color="#d0d0d0"/></linearGradient>
</defs>
<rect x="42.3" y="329.2" width="52.2" height="122.1" fill="#fafafa"/>
<rect x="42.65" y="329.2" width="12.35" height="122.1" fill="url(#l1)"/>
<rect x="55.70" y="329.2" width="12.35" height="122.1" fill="url(#l2)"/>
<rect x="68.75" y="329.2" width="12.35" height="122.1" fill="url(#l3)"/>
<rect x="81.80" y="329.2" width="12.35" height="122.1" fill="url(#l4)"/>
<rect x="42.3" y="329.2" width="52.2" height="122.1" fill="none" stroke="#333" stroke-width="0.9"/>
<text transform="translate(51.3,325.5) rotate(-90)" font-size="7.8" fill="#262626">Mock</text>
<text transform="translate(64.2,325.5) rotate(-90)" font-size="7.8" fill="#262626">8h</text>
<text transform="translate(76.7,325.5) rotate(-90)" font-size="7.8" fill="#262626">24h</text>
<text transform="translate(89.0,325.5) rotate(-90)" font-size="7.8" fill="#262626">48h</text>
<text x="97.0" y="322.5" font-size="7.8" text-anchor="start" fill="#262626" >p.i.</text>
<text x="40.3" y="332.8" font-size="7.8" text-anchor="end" fill="#262626" >kDa</text>
<text x="40.5" y="358.3" font-size="7.8" text-anchor="end" fill="#262626" >440</text>
<text x="40.5" y="386.0" font-size="7.8" text-anchor="end" fill="#262626" >280</text>
<text x="40.5" y="410.0" font-size="7.8" text-anchor="end" fill="#262626" >116</text>
<text x="40.5" y="429.3" font-size="7.8" text-anchor="end" fill="#262626" >66</text>
<path d="M94.3,336.3H98V382H94.3" stroke="#555" stroke-width="0.8" fill="none"/>
<text transform="translate(106.2,376) rotate(-90)" font-size="7.8" fill="#262626">oligomers</text>
<text x="97.4" y="434.5" font-size="7.8" text-anchor="start" fill="#262626" >mono-</text>
<text x="97.4" y="443.8" font-size="7.8" text-anchor="start" fill="#262626" >mers</text>
<defs>
<marker id="ah" markerWidth="7" markerHeight="6" refX="5" refY="3" orient="auto" markerUnits="userSpaceOnUse"><path d="M0,0.9L5.3,3L0,5.1z" fill="#1a1a1a"/></marker>
<radialGradient id="pg" cx="0.5" cy="0.5" r="0.5"><stop offset="0" stop-color="#f5ec30"/><stop offset="0.75" stop-color="#f0e20a"/><stop offset="1" stop-color="#d8c800"/></radialGradient>
<radialGradient id="ag" cx="0.86" cy="0.5" r="0.62"><stop offset="0" stop-color="#fffaf4"/><stop offset="0.45" stop-color="#f9cfa3"/><stop offset="1" stop-color="#f5c08c"/></radialGradient>
</defs>
<path d="M252,61.3H318.5" stroke="#505050" stroke-width="0.8" fill="none"/>
<path d="M130,122.3H254.7" stroke="#505050" stroke-width="0.8" fill="none"/>
<path d="M382,60.8H412.3" stroke="#505050" stroke-width="0.8" fill="none" marker-end="url(#ah)"/>
<path d="M478.4,61.9H516" stroke="#505050" stroke-width="0.8" fill="none"/>
<path d="M442.8,122H516" stroke="#505050" stroke-width="0.8" fill="none"/>
<path d="M487.7,202H516" stroke="#505050" stroke-width="0.8" fill="none"/>
<path d="M164,202.7H135.3M130,171.3H135.3V263H130" stroke="#505050" stroke-width="0.8" fill="none"/>
<path d="M251.6,316.2H289.3" stroke="#505050" stroke-width="0.8" fill="none"/>
<path d="M376,275.3H388V354.3H393.6" stroke="#505050" stroke-width="0.8" fill="none"/>
<path d="M373.8,209.6H405.5V256.5" stroke="#505050" stroke-width="0.8" fill="none"/>
<path d="M333.6,74.6L297,106" stroke="#505050" stroke-width="0.8" fill="none" marker-end="url(#ah)"/>
<path d="M323,68.4L190.6,182.6" stroke="#505050" stroke-width="0.8" fill="none" marker-end="url(#ah)"/>
<path d="M350.2,72V261.5" stroke="#505050" stroke-width="0.8" fill="none" marker-end="url(#ah)"/>
<path d="M340,39.8L354.5,46.5" stroke="#505050" stroke-width="0.8" fill="none" marker-end="url(#ah)"/>
<path d="M303.2,122.3H331.5M331.5,119.8V124.8" stroke="#505050" stroke-width="0.8" fill="none"/>
<path d="M360.5,122.7H385.5" stroke="#505050" stroke-width="0.8" fill="none" marker-end="url(#ah)"/>
<path d="M413.3,135V146.4" stroke="#505050" stroke-width="0.8" fill="none" marker-end="url(#ah)"/>
<path d="M450,193L430.4,166.5" stroke="#505050" stroke-width="0.8" fill="none" marker-end="url(#ah)"/>
<path d="M461,193L439.6,137" stroke="#505050" stroke-width="0.8" fill="none" marker-end="url(#ah)"/>
<path d="M477.3,156V188" stroke="#505050" stroke-width="0.8" fill="none" marker-end="url(#ah)"/>
<path d="M447.7,202H378.5" stroke="#505050" stroke-width="0.8" fill="none" marker-end="url(#ah)"/>
<path d="M448,207L373.3,266" stroke="#505050" stroke-width="0.8" fill="none" marker-end="url(#ah)"/>
<path d="M391.2,135L226.5,188.3" stroke="#505050" stroke-width="0.8" fill="none"/>
<path d="M164,201.7L317.2,269.2" stroke="#505050" stroke-width="0.8" fill="none" marker-end="url(#ah)"/>
<path d="M260.8,244.8L291.6,298.5" stroke="#505050" stroke-width="0.8" fill="none" marker-end="url(#ah)"/>
<path d="M260.8,244.8L279.3,377.9" stroke="#505050" stroke-width="0.8" fill="none" marker-end="url(#ah)"/>
<path d="M363.5,213V260" stroke="#505050" stroke-width="0.8" fill="none"/>
<path d="M349.5,287.7V422" stroke="#505050" stroke-width="0.8" fill="none"/>
<path d="M316,333L347.7,425.4" stroke="#505050" stroke-width="0.8" fill="none"/>
<path d="M314.2,407.3L347.7,426.5" stroke="#505050" stroke-width="0.8" fill="none"/>
<path d="M356,443.4H396.6" stroke="#505050" stroke-width="0.8" fill="none" marker-end="url(#ah)"/>
<path d="M498.6,443.8H538" stroke="#505050" stroke-width="0.8" fill="none" marker-end="url(#ah)"/>
<text x="348.2" y="16.3" font-size="7.7" text-anchor="middle" fill="#262626" >energy status</text>
<text x="261.5" y="72.7" font-size="7.7" text-anchor="start" fill="#262626" >catabolic</text>
<text x="261.5" y="82.4" font-size="7.7" text-anchor="start" fill="#262626" >processes</text>
<text x="143.6" y="143.5" font-size="7.7" text-anchor="start" fill="#262626" >autophagy</text>
<text x="143.6" y="152.2" font-size="7.7" text-anchor="start" fill="#262626" >initiation</text>
<text x="448.2" y="105.4" font-size="7.7" text-anchor="start" fill="#262626" >protein</text>
<text x="448.2" y="114.7" font-size="7.7" text-anchor="start" fill="#262626" >metabolism</text>
<text x="464.9" y="31.6" font-size="7.7" text-anchor="start" fill="#262626" >AMPK</text>
<text x="464.9" y="40.9" font-size="7.7" text-anchor="start" fill="#262626" >substrates</text>
<rect x="285" y="337.5" width="58" height="20" fill="#fdfdfd"/>
<text x="285.6" y="346.0" font-size="7.7" text-anchor="start" fill="#262626" >autophagosome</text>
<text x="285.6" y="355.0" font-size="7.7" text-anchor="start" fill="#262626" >formation</text>
<text x="276.9" y="431.0" font-size="7.7" text-anchor="start" fill="#262626" >autophagy</text>
<text x="276.9" y="439.8" font-size="7.7" text-anchor="start" fill="#262626" >induction</text>
<path d="M281.3,41 C281.3,33 292,26.3 310,26.3 C328,26.3 339,33 339,40 C325,42 296,42.5 281.3,41z" fill="#fff" stroke="#505050" stroke-width="0.8"/>
<text x="309.5" y="37.3" font-size="7.7" text-anchor="middle" fill="#262626" >LKB1</text>
<ellipse cx="350.3" cy="61" rx="31.8" ry="11" fill="#fff" stroke="#505050" stroke-width="0.8"/>
<text x="350.8" y="65.2" font-size="7.7" text-anchor="middle" fill="#262626" >AMPK</text>
<circle cx="360.5" cy="50" r="4.8" fill="#f4ee80" opacity="0.45"/>
<circle cx="360.5" cy="50" r="3.9" fill="url(#pg)" stroke="#c4b400" stroke-width="0.7"/>
<text x="360.7" y="52.5" font-size="6.9" text-anchor="middle" fill="#222">P</text>
<text x="364.8" y="46.2" font-size="7.7" text-anchor="start" fill="#262626" >T172</text>
<path d="M252.9,142.5L265.7,133.2H291.8L304.1,142.5L291.3,151.8H264.2z" fill="#fff" stroke="#505050" stroke-width="0.8"/>
<text x="279.0" y="145.2" font-size="7.7" text-anchor="middle" fill="#262626" >TSC1</text>
<ellipse cx="279" cy="121.7" rx="24.2" ry="11.5" fill="#fff" stroke="#505050" stroke-width="0.8"/>
<text x="279.0" y="125.0" font-size="7.7" text-anchor="middle" fill="#262626" >TSC2</text>
<circle cx="292.7" cy="112" r="4.8" fill="#f4ee80" opacity="0.45"/>
<circle cx="292.7" cy="112" r="3.9" fill="url(#pg)" stroke="#c4b400" stroke-width="0.7"/>
<text x="292.9" y="114.5" font-size="6.9" text-anchor="middle" fill="#222">P</text>
<text x="301.3" y="111.1" font-size="7.7" text-anchor="start" fill="#262626" >S1387</text>
<text x="301.3" y="118.0" font-size="7.7" text-anchor="start" fill="#262626" >T1227</text>
<path d="M333,126.3 C334.5,119 339,115 345,115 C352,115 357,121 358.3,128.8 C355,127.6 352.5,127.2 349.5,127.2 C344,127 338,126.6 333,126.3z" fill="#fff" stroke="#505050" stroke-width="0.8"/>
<text x="345.8" y="126.0" font-size="7.7" text-anchor="middle" fill="#262626" >Rheb</text>
<path d="M322,131.8h2.5l1.5,1.2M326.5,133.2h3.5l1.5,-1.5h3" stroke="#999" stroke-width="0.7" fill="none"/>
<rect x="327" y="133.5" width="4" height="2" fill="none" stroke="#999" stroke-width="0.6"/>
<circle cx="338" cy="130.4" r="2.2" fill="#fff" stroke="#aaa" stroke-width="0.6"/>
<text x="342.2" y="139.8" font-size="7.7" text-anchor="middle" fill="#262626" >GDP</text>
<path d="M390.5,122 C389,112 397,109.5 407,110 C416,110.5 421,113 430,112.8 C439,112.5 444,117 443,125 C442,133 435,135.2 425,134.6 C415,134 405,135.6 397,134.3 C391.5,133.3 391,128 390.5,122z" fill="#fff" stroke="#505050" stroke-width="0.8"/>
<text x="416.0" y="125.5" font-size="7.7" text-anchor="middle" fill="#262626" >mTORC1</text>
<path d="M452,140 C451,132 455,130 462,130.5 C470,131.5 485,131.5 495,130.3 C503,129.5 506,133 505,139 C503,151 492,156 478,156 C464,156 453,150 452,140z" fill="#fff" stroke="#505050" stroke-width="0.8"/>
<text x="478.0" y="146.0" font-size="7.7" text-anchor="middle" fill="#262626" >mTORC2</text>
<rect x="393.3" y="150.7" width="33" height="14" fill="#fff" stroke="#888" stroke-width="0.9"/>
<text x="410.0" y="160.3" font-size="7.7" text-anchor="middle" fill="#262626" >PRAS40</text>
<circle cx="406.9" cy="147.5" r="4.8" fill="#f4ee80" opacity="0.45"/>
<circle cx="406.9" cy="147.5" r="3.9" fill="url(#pg)" stroke="#c4b400" stroke-width="0.7"/>
<text x="407.1" y="150.0" font-size="6.9" text-anchor="middle" fill="#222">P</text>
<text x="383.6" y="146.0" font-size="7.7" text-anchor="start" fill="#262626" >S183</text>
<circle cx="424.1" cy="166.4" r="4.8" fill="#f4ee80" opacity="0.45"/>
<circle cx="424.1" cy="166.4" r="3.9" fill="url(#pg)" stroke="#c4b400" stroke-width="0.7"/>
<text x="424.3" y="168.9" font-size="6.9" text-anchor="middle" fill="#222">P</text>
<text x="422.4" y="177.2" font-size="7.7" text-anchor="middle" fill="#262626" >T246</text>
<rect x="332.3" y="191.2" width="41.5" height="22" rx="3" fill="#fff" stroke="#505050" stroke-width="0.8"/>
<text x="353.2" y="205.3" font-size="7.7" text-anchor="middle" fill="#262626" >SKP2</text>
<circle cx="374.8" cy="192" r="4.8" fill="#f4ee80" opacity="0.45"/>
<circle cx="374.8" cy="192" r="3.9" fill="url(#pg)" stroke="#c4b400" stroke-width="0.7"/>
<text x="375.0" y="194.5" font-size="6.9" text-anchor="middle" fill="#222">P</text>
<text x="376.0" y="181.5" font-size="7.7" text-anchor="start" fill="#262626" >S64</text>
<text x="376.0" y="188.4" font-size="7.7" text-anchor="start" fill="#262626" >S72</text>
<ellipse cx="467.2" cy="201.9" rx="19.5" ry="9.9" fill="#fff" stroke="#505050" stroke-width="0.8"/>
<text x="467.2" y="205.5" font-size="7.7" text-anchor="middle" fill="#262626" >AKT1</text>
<circle cx="482.2" cy="192.7" r="4.8" fill="#f4ee80" opacity="0.45"/>
<circle cx="482.2" cy="192.7" r="3.9" fill="url(#pg)" stroke="#c4b400" stroke-width="0.7"/>
<text x="482.4" y="195.2" font-size="6.9" text-anchor="middle" fill="#222">P</text>
<text x="483.0" y="188.4" font-size="7.7" text-anchor="start" fill="#262626" >S473</text>
<path d="M164,201.7 C180,186 225,178 239,202 L202.8,218.5 z" fill="#fff" stroke="#505050" stroke-width="0.8"/>
<text x="201.3" y="204.5" font-size="7.7" text-anchor="middle" fill="#262626" >ULK1</text>
<circle cx="185.2" cy="185.5" r="4.8" fill="#f4ee80" opacity="0.45"/>
<circle cx="185.2" cy="185.5" r="3.9" fill="url(#pg)" stroke="#c4b400" stroke-width="0.7"/>
<text x="185.4" y="188.0" font-size="6.9" text-anchor="middle" fill="#222">P</text>
<text x="179.8" y="180.4" font-size="7.7" text-anchor="middle" fill="#262626" >S555</text>
<circle cx="221.1" cy="188.2" r="4.8" fill="#f4ee80" opacity="0.45"/>
<circle cx="221.1" cy="188.2" r="3.9" fill="url(#pg)" stroke="#c4b400" stroke-width="0.7"/>
<text x="221.3" y="190.7" font-size="6.9" text-anchor="middle" fill="#222">P</text>
<text x="229.3" y="183.0" font-size="7.7" text-anchor="middle" fill="#262626" >S757</text>
<ellipse cx="347.5" cy="275" rx="28.5" ry="12.7" fill="#fff" stroke="#505050" stroke-width="0.8"/>
<text x="347.5" y="279.0" font-size="7.7" text-anchor="middle" fill="#262626" >BECN1</text>
<circle cx="322.6" cy="267.6" r="4.8" fill="#f4ee80" opacity="0.45"/>
<circle cx="322.6" cy="267.6" r="3.9" fill="url(#pg)" stroke="#c4b400" stroke-width="0.7"/>
<text x="322.8" y="270.1" font-size="6.9" text-anchor="middle" fill="#222">P</text>
<circle cx="343.4" cy="262" r="4.8" fill="#f4ee80" opacity="0.45"/>
<circle cx="343.4" cy="262" r="3.9" fill="url(#pg)" stroke="#c4b400" stroke-width="0.7"/>
<text x="343.6" y="264.5" font-size="6.9" text-anchor="middle" fill="#222">P</text>
<circle cx="368.3" cy="267.6" r="4.8" fill="#f4ee80" opacity="0.45"/>
<circle cx="368.3" cy="267.6" r="3.9" fill="url(#pg)" stroke="#c4b400" stroke-width="0.7"/>
<text x="368.5" y="270.1" font-size="6.9" text-anchor="middle" fill="#222">P</text>
<circle cx="356.9" cy="266.4" r="6.1" fill="#7f5fae" stroke="#6a4e95" stroke-width="0.5"/>
<text x="356.9" y="269.2" font-size="7" text-anchor="middle" fill="#333" >Ub</text>
<text x="317.2" y="255.8" font-size="7.7" text-anchor="middle" fill="#262626" >S15</text>
<text x="317.2" y="262.1" font-size="7.7" text-anchor="middle" fill="#262626" >S30</text>
<text x="328.8" y="242.5" font-size="7.7" text-anchor="start" fill="#262626" >S93</text>
<text x="328.8" y="249.6" font-size="7.7" text-anchor="start" fill="#262626" >S96</text>
<text x="328.8" y="256.2" font-size="7.7" text-anchor="start" fill="#262626" >T388</text>
<rect x="353.5" y="251.5" width="14" height="8" fill="#fdfdfd"/>
<text x="353.7" y="258.5" font-size="7.7" text-anchor="start" fill="#262626" >K48</text>
<rect x="369.5" y="248.5" width="19" height="14" fill="#fdfdfd"/>
<text x="369.7" y="255.0" font-size="7.7" text-anchor="start" fill="#262626" >S234</text>
<text x="369.7" y="261.2" font-size="7.7" text-anchor="start" fill="#262626" >S295</text>
<path d="M289.3,312L296,304.2H316.5L325.7,312V323.5L316.5,330.8H296L289.3,323.5z" fill="#fff" stroke="#505050" stroke-width="0.8"/>
<text x="307.5" y="320.0" font-size="7.7" text-anchor="middle" fill="#262626" >ATG14</text>
<circle cx="295.6" cy="305.7" r="4.8" fill="#f4ee80" opacity="0.45"/>
<circle cx="295.6" cy="305.7" r="3.9" fill="url(#pg)" stroke="#c4b400" stroke-width="0.7"/>
<text x="295.8" y="308.2" font-size="6.9" text-anchor="middle" fill="#222">P</text>
<text x="300.5" y="302.3" font-size="7.7" text-anchor="start" fill="#262626" >S29</text>
<path d="M275.3,389.2 C285,387 295,391 304,388.5 C308,387.5 311,387 314.2,387 V406.2 C305,404.5 295,406.5 285,404.5 C281,404 278,405.5 275.3,406.2 z" fill="#fff" stroke="#505050" stroke-width="0.8"/>
<text x="294.5" y="399.5" font-size="7.7" text-anchor="middle" fill="#262626" >ATG16L1</text>
<circle cx="281" cy="385.8" r="4.8" fill="#f4ee80" opacity="0.45"/>
<circle cx="281" cy="385.8" r="3.9" fill="url(#pg)" stroke="#c4b400" stroke-width="0.7"/>
<text x="281.2" y="388.3" font-size="6.9" text-anchor="middle" fill="#222">P</text>
<text x="286.6" y="383.0" font-size="7.7" text-anchor="start" fill="#262626" >S278</text>
<path d="M419.7,51.3 C423,50 426,50 428.5,50.7 C431,52 430.5,54 431.4,55.4 C433,58.5 436,61.5 439.6,61.8 C442,62 444,61.5 445.4,61.2 C446,63.5 445.5,65 444.8,65.9 C442,69 439,71 436,71.8 C432,72.8 428,72.8 424.4,72.4 C419,71.5 416,69.5 415,67 C413.5,64 413.5,61 414.4,58.9 C415,56.5 417,53.5 419.7,51.3z" fill="#fff" stroke="#505050" stroke-width="0.8"/>
<path d="M434.3,48.4L439,39H451.9L456.5,47.8L450.7,57.1C448.5,56 447,55.8 445.4,56C443.5,56.3 441.5,57 439.6,57.1z" fill="#fff" stroke="#505050" stroke-width="0.8"/>
<path d="M448.4,62.4 C449.5,60.5 450.5,59.3 452.4,58.3 C455,56.8 457,56 459.5,55.4 C462.5,54.5 465,52.5 467.1,51.9 C469.5,52.5 471,54 472.3,55.4 C474.5,57.5 476,59.5 478.2,61.2 C477,63 475.5,64.5 473.5,65.9 C471,67.5 468,68.8 465.3,69.4 C462.5,70.2 460,70.8 457.1,70.6 C454,70.3 451.5,69 450.1,67.1 C449,65.5 448.3,64 448.4,62.4z" fill="#fff" stroke="#505050" stroke-width="0.8"/>
<circle cx="419.7" cy="51.3" r="4.8" fill="#f4ee80" opacity="0.45"/>
<circle cx="419.7" cy="51.3" r="3.9" fill="url(#pg)" stroke="#c4b400" stroke-width="0.7"/>
<text x="419.9" y="53.8" font-size="6.9" text-anchor="middle" fill="#222">P</text>
<circle cx="452.2" cy="40.2" r="4.8" fill="#f4ee80" opacity="0.45"/>
<circle cx="452.2" cy="40.2" r="3.9" fill="url(#pg)" stroke="#c4b400" stroke-width="0.7"/>
<text x="452.4" y="42.7" font-size="6.9" text-anchor="middle" fill="#222">P</text>
<circle cx="467.1" cy="51.9" r="4.8" fill="#f4ee80" opacity="0.45"/>
<circle cx="467.1" cy="51.9" r="3.9" fill="url(#pg)" stroke="#c4b400" stroke-width="0.7"/>
<text x="467.3" y="54.4" font-size="6.9" text-anchor="middle" fill="#222">P</text>
<text x="446.5" y="80.8" font-size="7.7" text-anchor="middle" fill="#262626" >LXRXX(pS/pT)</text>
<path d="M366.5,420.6 C352,421.5 340.3,430 340.6,441.5 C340.9,453 352,461 366.5,462.6 C367,461.5 366,460.5 364.5,459.6 C353,455 346.6,449 346.4,441.5 C346.2,434 353,426.5 364.5,423.4 C366,422.8 367,421.8 366.5,420.6 Z" fill="#8db6df" stroke="#4a7bb2" stroke-width="0.9"/>
<path d="M363,424.3 C351,428.5 343.6,434.5 343.5,441.5 C343.4,448.5 351,455 363,459.5" stroke="#eef5fc" stroke-width="0.8" fill="none"/>
<path d="M344,432L341.1,431.6" stroke="#1f80c4" stroke-width="2.9" stroke-linecap="round"/>
<circle cx="338.2" cy="431.3" r="2" fill="#d4a04e"/>
<path d="M357.5,426.2L359.6,427.0" stroke="#1f80c4" stroke-width="2.9" stroke-linecap="round"/>
<circle cx="361.7" cy="427.8" r="2" fill="#d4a04e"/>
<path d="M347.6,445.4L350.0,444.2" stroke="#1f80c4" stroke-width="2.9" stroke-linecap="round"/>
<circle cx="352.3" cy="443" r="2" fill="#d4a04e"/>
<path d="M351.1,457.1L349.1,458.9" stroke="#1f80c4" stroke-width="2.9" stroke-linecap="round"/>
<circle cx="347" cy="460.7" r="2" fill="#d4a04e"/>
<text x="327.3" y="450.8" font-size="7.7" text-anchor="middle" fill="#262626" >LC3B-II</text>
<circle cx="432.2" cy="444.6" r="22" fill="#dce8f5" stroke="#7489a8" stroke-width="1.5"/>
<path d="M420.1,422.6L422.3,425.2" stroke="#1f82c6" stroke-width="2.9" stroke-linecap="round"/>
<path d="M422.9,423.1L420.1,425.5" stroke="#1f82c6" stroke-width="1.6" stroke-linecap="round"/>
<path d="M421.5,424.3L425.5,428.9" stroke="#1f82c6" stroke-width="1.4"/>
<circle cx="425.5" cy="428.9" r="2.2" fill="#d6a657"/>
<path d="M445.8,429.1L448.4,427.0" stroke="#1f82c6" stroke-width="2.9" stroke-linecap="round"/>
<path d="M446.4,426.3L448.6,429.1" stroke="#1f82c6" stroke-width="1.6" stroke-linecap="round"/>
<path d="M447.5,427.7L451.2,424.8" stroke="#1f82c6" stroke-width="1.4"/>
<circle cx="451.2" cy="424.8" r="2.2" fill="#d6a657"/>
<path d="M412.7,439.8L409.3,439.3" stroke="#1f82c6" stroke-width="2.9" stroke-linecap="round"/>
<path d="M410.2,441.3L410.8,437.7" stroke="#1f82c6" stroke-width="1.6" stroke-linecap="round"/>
<path d="M410.5,439.5L405.5,438.7" stroke="#1f82c6" stroke-width="1.4"/>
<circle cx="405.5" cy="438.7" r="2.2" fill="#d6a657"/>
<path d="M449.6,454.1L452.8,455.2" stroke="#1f82c6" stroke-width="2.9" stroke-linecap="round"/>
<path d="M452.3,453.1L451.1,456.5" stroke="#1f82c6" stroke-width="1.6" stroke-linecap="round"/>
<path d="M451.7,454.8L456.8,456.5" stroke="#1f82c6" stroke-width="1.4"/>
<circle cx="456.8" cy="456.5" r="2.2" fill="#d6a657"/>
<path d="M424.3,467.5L425.6,464.4" stroke="#1f82c6" stroke-width="2.9" stroke-linecap="round"/>
<path d="M423.4,464.8L426.8,466.2" stroke="#1f82c6" stroke-width="1.6" stroke-linecap="round"/>
<path d="M425.1,465.5L427.1,460.7" stroke="#1f82c6" stroke-width="1.4"/>
<circle cx="427.1" cy="460.7" r="2.2" fill="#d6a657"/>
<ellipse cx="443.5" cy="431.5" rx="2.4" ry="3.9" transform="rotate(-60 443.5 431.5)" fill="#b01a38"/>
<ellipse cx="415.6" cy="441.2" rx="2.4" ry="3.8" transform="rotate(18 415.6 441.2)" fill="#b01a38"/>
<text x="443.7" y="443.2" font-size="7.7" text-anchor="middle" fill="#262626" >P62</text>
<circle cx="479.3" cy="443.8" r="16.9" fill="#f8c898" stroke="#c49a74" stroke-width="0.8"/>
<radialGradient id="ag2" cx="0.0" cy="0.5" r="0.55"><stop offset="0" stop-color="#fdeedd"/><stop offset="0.6" stop-color="#f7cc9f"/><stop offset="1" stop-color="#f5c18e"/></radialGradient>
<circle cx="561.8" cy="442.2" r="21.1" fill="url(#ag)" stroke="#b8906c" stroke-width="0.8"/>
<circle cx="599.2" cy="443.2" r="17.3" fill="url(#ag2)" stroke="#b8906c" stroke-width="0.8"/>
</svg></body></html>
